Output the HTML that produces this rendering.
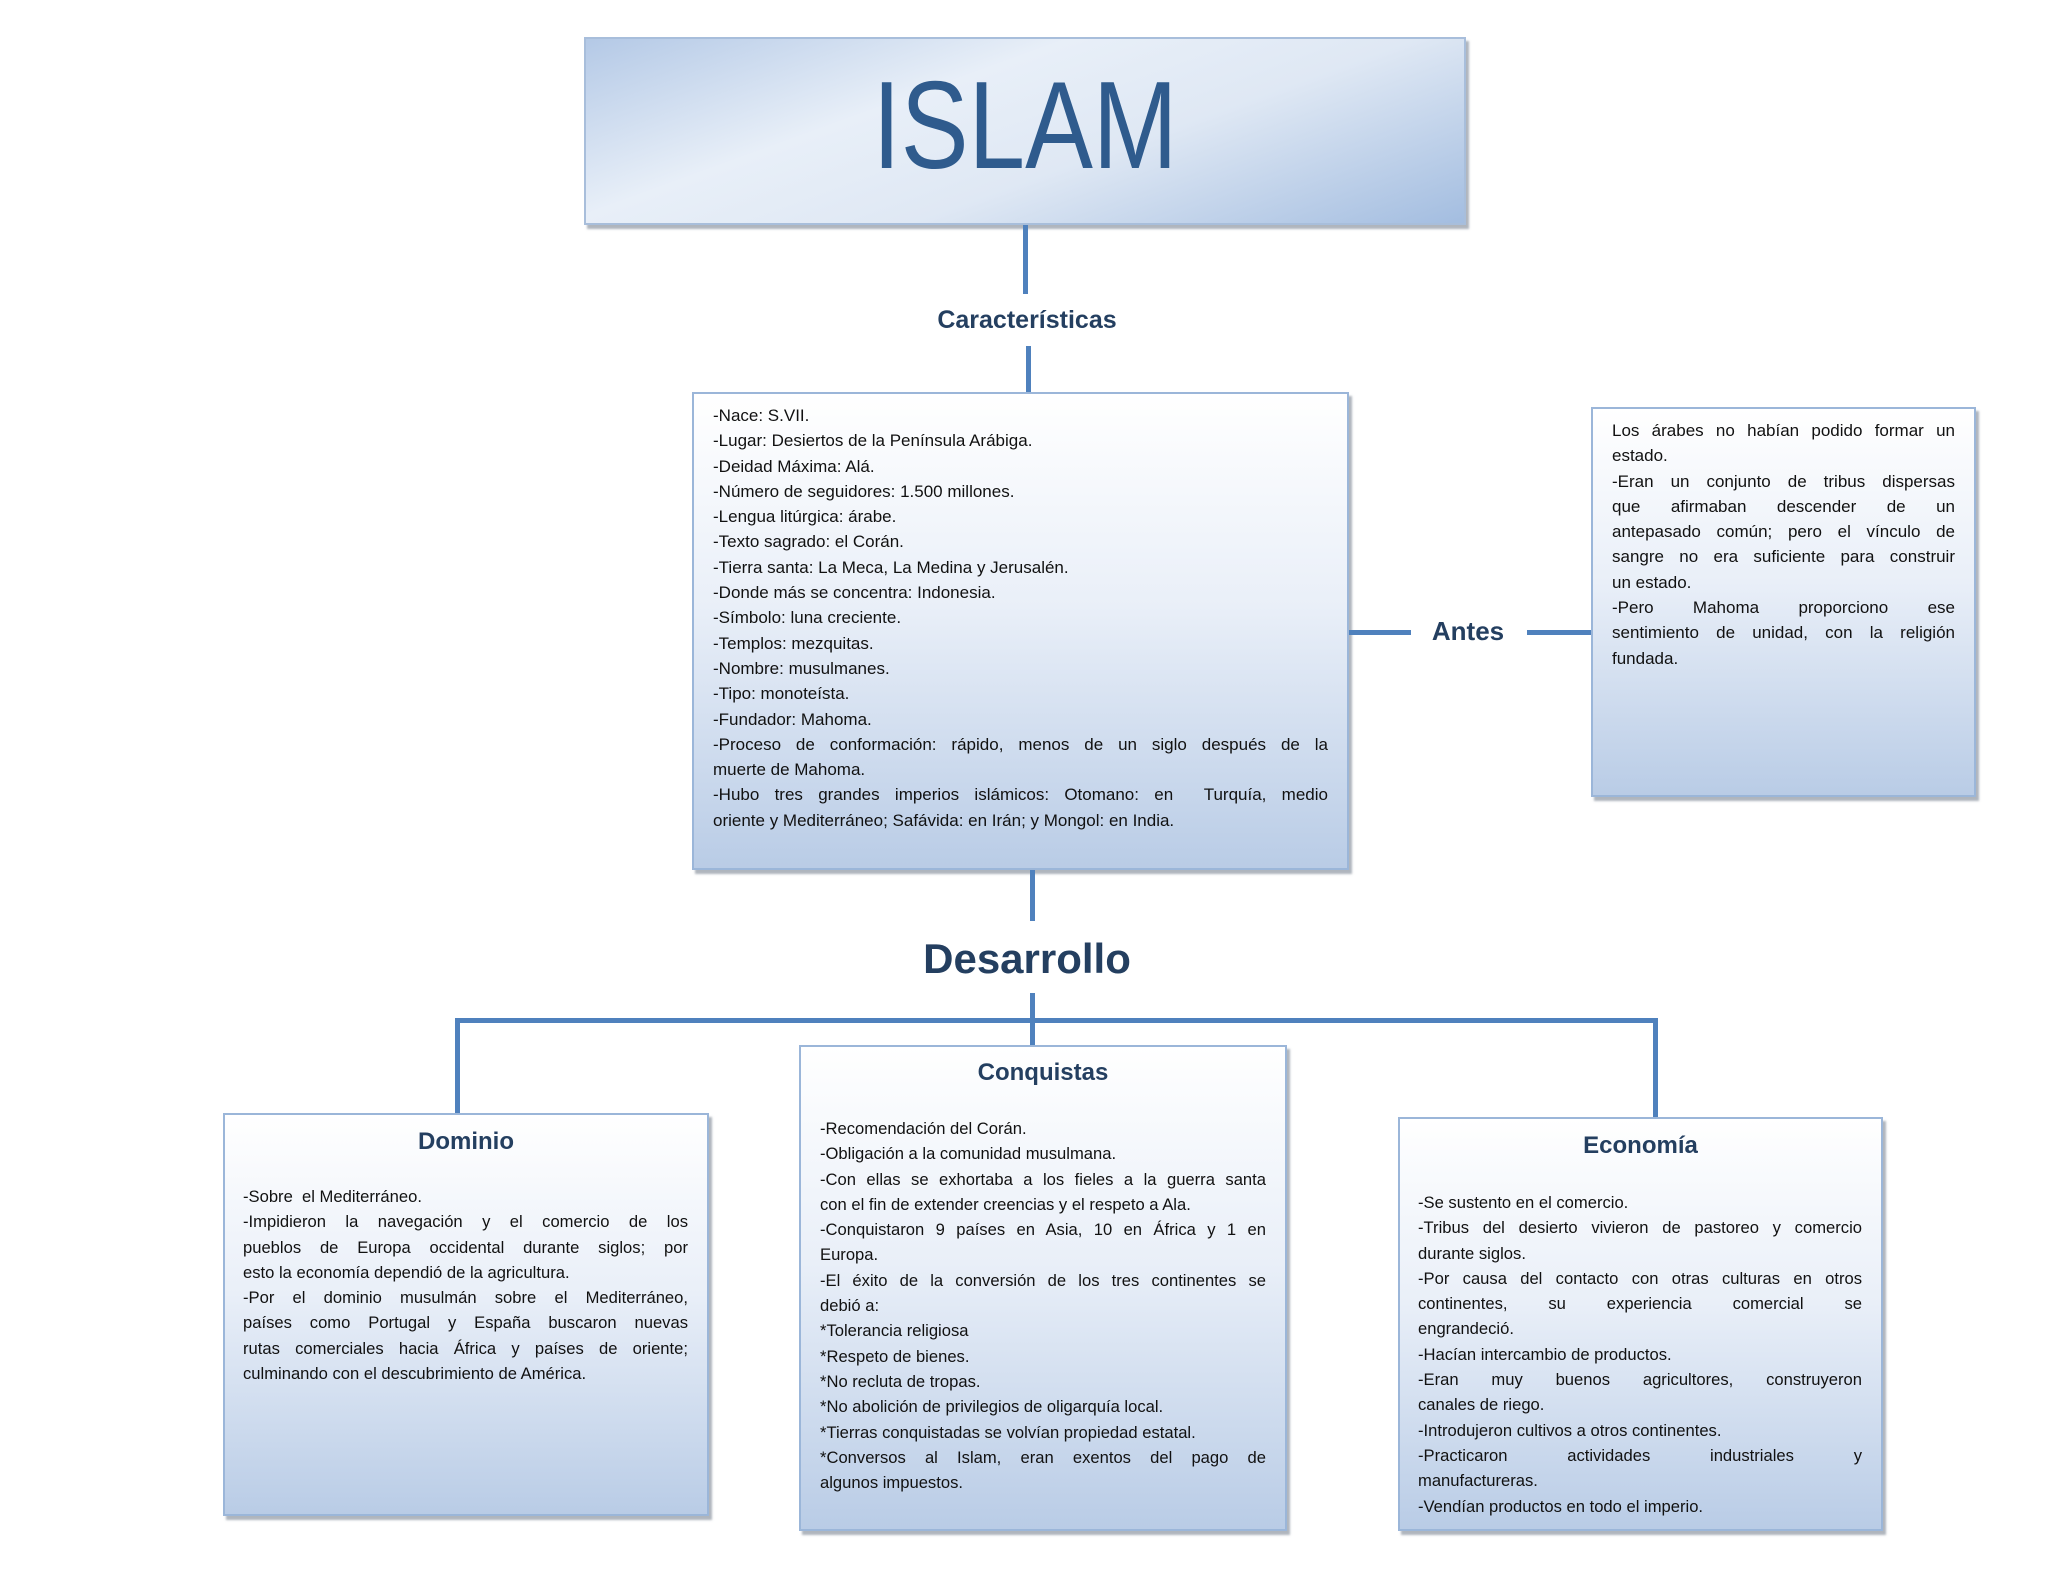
<!DOCTYPE html>
<html><head><meta charset="utf-8">
<style>
body{margin:0;width:2048px;height:1582px;background:#fff;position:relative;overflow:hidden;font-family:"Liberation Sans",sans-serif;}
.box{position:absolute;box-sizing:border-box;border:2px solid #9bb6d9;background:linear-gradient(180deg,#ffffff 0%,#e9eff8 45%,#b9cce6 100%);box-shadow:3px 4px 2px rgba(110,120,135,0.55);}
.ln{position:absolute;background:#4f81bd;}
.lbl{position:absolute;color:#243f60;font-weight:bold;text-align:center;white-space:nowrap;}
.txt{position:absolute;font-size:16.6px;line-height:25.3px;color:#111;}
.txt div{height:25.3px;overflow:hidden;}
.j{text-align:justify;text-align-last:justify;}
</style></head><body>

<div class="box" style="left:584px;top:37px;width:882px;height:188px;border-color:#a8bedb;background:linear-gradient(160deg,#b4c9e6 0%,#e8eff8 35%,#dfe8f4 60%,#a3bde0 100%);"></div>
<div style="position:absolute;left:584px;top:46px;width:882px;text-align:center;font-size:124px;line-height:160px;color:#2f5b8d;"><span style="display:inline-block;transform:scaleX(0.82);">ISLAM</span></div>

<div class="ln" style="left:1023px;top:225px;width:5px;height:69px;"></div>
<div class="lbl" style="left:927px;top:306px;width:200px;font-size:25px;">Características</div>
<div class="ln" style="left:1026px;top:346px;width:5px;height:46px;"></div>

<div class="box" style="left:692px;top:392px;width:657px;height:478px;"></div>
<div class="txt" style="left:713px;top:403px;width:615px;font-size:17px;">
<div>-Nace: S.VII.</div>
<div>-Lugar: Desiertos de la Península Arábiga.</div>
<div>-Deidad Máxima: Alá.</div>
<div>-Número de seguidores: 1.500 millones.</div>
<div>-Lengua litúrgica: árabe.</div>
<div>-Texto sagrado: el Corán.</div>
<div>-Tierra santa: La Meca, La Medina y Jerusalén.</div>
<div>-Donde más se concentra: Indonesia.</div>
<div>-Símbolo: luna creciente.</div>
<div>-Templos: mezquitas.</div>
<div>-Nombre: musulmanes.</div>
<div>-Tipo: monoteísta.</div>
<div>-Fundador: Mahoma.</div>
<div class="j">-Proceso de conformación: rápido, menos de un siglo después de la</div>
<div>muerte de Mahoma.</div>
<div class="j">-Hubo tres grandes imperios islámicos: Otomano: en &nbsp;Turquía, medio</div>
<div>oriente y Mediterráneo; Safávida: en Irán; y Mongol: en India.</div>
</div>

<div class="ln" style="left:1349px;top:630px;width:62px;height:5px;"></div>
<div class="lbl" style="left:1418px;top:616px;width:100px;font-size:26px;">Antes</div>
<div class="ln" style="left:1527px;top:630px;width:64px;height:5px;"></div>

<div class="box" style="left:1591px;top:407px;width:385px;height:390px;"></div>
<div class="txt" style="left:1612px;top:418px;width:343px;font-size:17px;">
<div class="j">Los árabes no habían podido formar un</div>
<div>estado.</div>
<div class="j">-Eran un conjunto de tribus dispersas</div>
<div class="j">que afirmaban descender de un</div>
<div class="j">antepasado común; pero el vínculo de</div>
<div class="j">sangre no era suficiente para construir</div>
<div>un estado.</div>
<div class="j">-Pero Mahoma proporciono ese</div>
<div class="j">sentimiento de unidad, con la religión</div>
<div>fundada.</div>
</div>

<div class="ln" style="left:1030px;top:870px;width:5px;height:51px;"></div>
<div class="lbl" style="left:877px;top:935px;width:300px;font-size:42px;">Desarrollo</div>
<div class="ln" style="left:1030px;top:993px;width:5px;height:52px;"></div>
<div class="ln" style="left:455px;top:1018px;width:1203px;height:5px;"></div>
<div class="ln" style="left:455px;top:1018px;width:5px;height:95px;"></div>
<div class="ln" style="left:1653px;top:1018px;width:5px;height:99px;"></div>

<div class="box" style="left:223px;top:1113px;width:486px;height:403px;"></div>
<div class="lbl" style="left:223px;top:1128px;width:486px;font-size:24px;">Dominio</div>
<div class="txt" style="left:243px;top:1184px;width:445px;">
<div>-Sobre &nbsp;el Mediterráneo.</div>
<div class="j">-Impidieron la navegación y el comercio de los</div>
<div class="j">pueblos de Europa occidental durante siglos; por</div>
<div>esto la economía dependió de la agricultura.</div>
<div class="j">-Por el dominio musulmán sobre el Mediterráneo,</div>
<div class="j">países como Portugal y España buscaron nuevas</div>
<div class="j">rutas comerciales hacia África y países de oriente;</div>
<div>culminando con el descubrimiento de América.</div>
</div>

<div class="box" style="left:799px;top:1045px;width:488px;height:486px;"></div>
<div class="lbl" style="left:799px;top:1059px;width:488px;font-size:24px;">Conquistas</div>
<div class="txt" style="left:820px;top:1116px;width:446px;">
<div>-Recomendación del Corán.</div>
<div>-Obligación a la comunidad musulmana.</div>
<div class="j">-Con ellas se exhortaba a los fieles a la guerra santa</div>
<div>con el fin de extender creencias y el respeto a Ala.</div>
<div class="j">-Conquistaron 9 países en Asia, 10 en África y 1 en</div>
<div>Europa.</div>
<div class="j">-El éxito de la conversión de los tres continentes se</div>
<div>debió a:</div>
<div>*Tolerancia religiosa</div>
<div>*Respeto de bienes.</div>
<div>*No recluta de tropas.</div>
<div>*No abolición de privilegios de oligarquía local.</div>
<div>*Tierras conquistadas se volvían propiedad estatal.</div>
<div class="j">*Conversos al Islam, eran exentos del pago de</div>
<div>algunos impuestos.</div>
</div>

<div class="box" style="left:1398px;top:1117px;width:485px;height:414px;"></div>
<div class="lbl" style="left:1398px;top:1132px;width:485px;font-size:24px;">Economía</div>
<div class="txt" style="left:1418px;top:1190px;width:444px;">
<div>-Se sustento en el comercio.</div>
<div class="j">-Tribus del desierto vivieron de pastoreo y comercio</div>
<div>durante siglos.</div>
<div class="j">-Por causa del contacto con otras culturas en otros</div>
<div class="j">continentes, su experiencia comercial se</div>
<div>engrandeció.</div>
<div>-Hacían intercambio de productos.</div>
<div class="j">-Eran muy buenos agricultores, construyeron</div>
<div>canales de riego.</div>
<div>-Introdujeron cultivos a otros continentes.</div>
<div class="j">-Practicaron actividades industriales y</div>
<div>manufactureras.</div>
<div>-Vendían productos en todo el imperio.</div>
</div>

</body></html>
